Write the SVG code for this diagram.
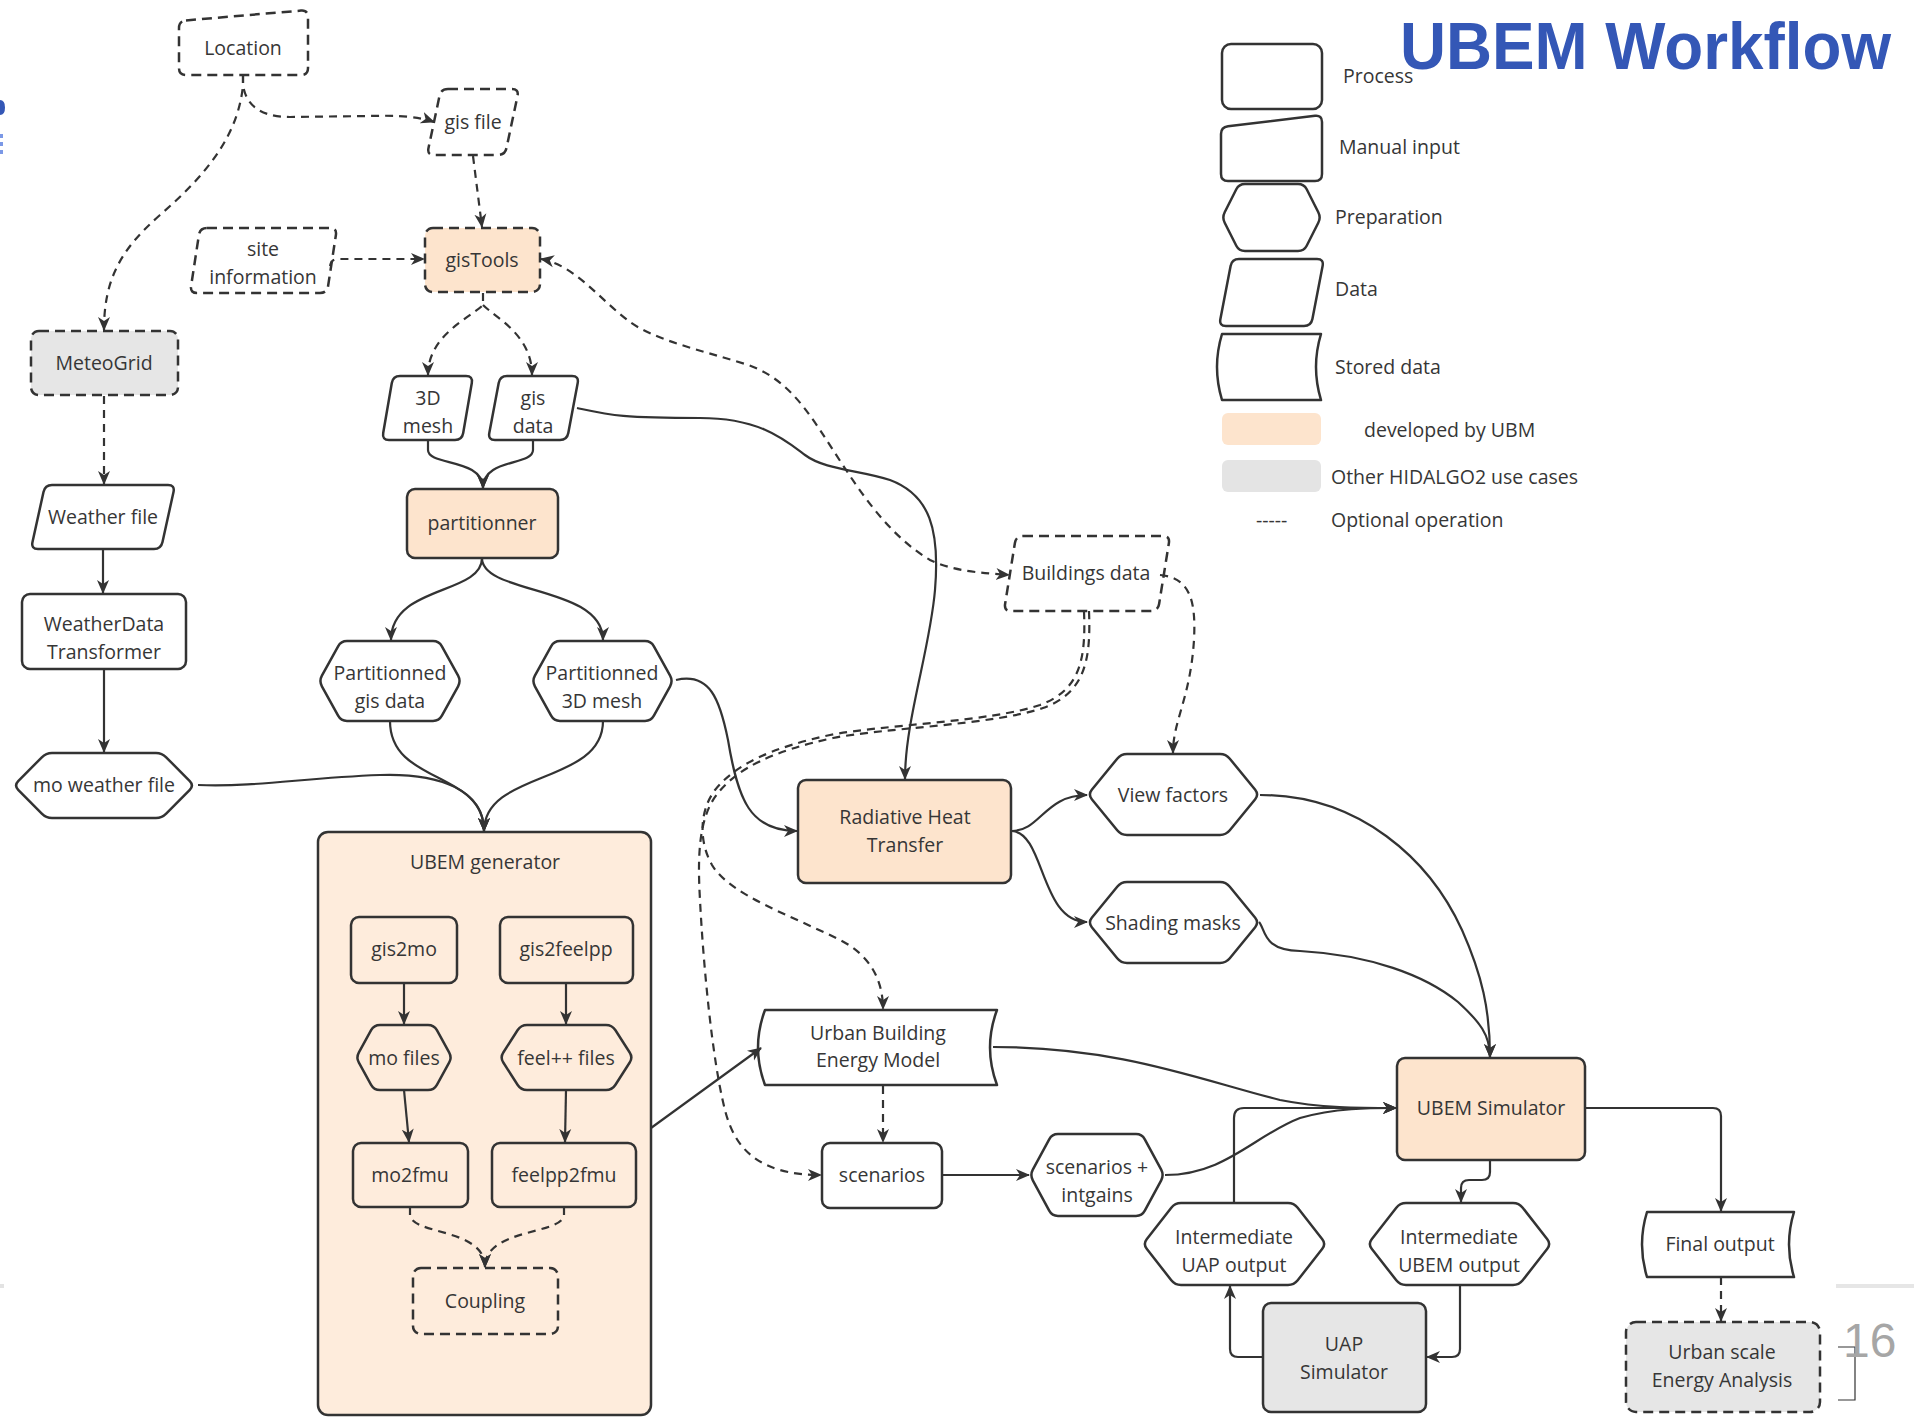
<svg xmlns="http://www.w3.org/2000/svg" width="1926" height="1418" viewBox="0 0 1926 1418">
<style>
  .s{stroke:#333;stroke-width:2.5;fill:#fff;stroke-linejoin:round}
  .o{fill:#fde4cd}
  .gy{fill:#e6e6e6}
  .gen{fill:#feecdc}
  .dash{stroke-dasharray:10 6}
  .c{fill:none;stroke:#333;stroke-width:2.2;marker-end:url(#arr)}
  .cd{stroke-dasharray:8 6}
  text{font-family:"Open Sans","DejaVu Sans",sans-serif;font-size:19.5px;fill:#363636;text-anchor:middle}
  .lg{text-anchor:start}
</style>
<defs>
  <marker id="arr" viewBox="0 0 14 14" refX="13" refY="7" markerWidth="14" markerHeight="14" markerUnits="userSpaceOnUse" orient="auto-start-reverse">
    <path d="M0,1 L14,7 L0,13 L4,7 z" fill="#333"/>
  </marker>
</defs>
<rect width="1926" height="1418" fill="#fff"/>

<!-- slide edge remnants -->
<g id="slide-marks">
  <path d="M0,100 Q5,100 5,107.5 Q5,115 0,115 Z" fill="#3457b6"/>
  <rect x="0" y="134" width="3" height="4" fill="#7b98e6"/>
  <rect x="0" y="142" width="3" height="4" fill="#7b98e6"/>
  <rect x="0" y="150" width="3" height="4" fill="#7b98e6"/>
  <rect x="0" y="1284" width="4" height="4" fill="#e3e3e3"/>
  <rect x="1836" y="1284" width="78" height="4" fill="#e6e6e6"/>
  <path d="M1838,1347 L1855,1347 L1855,1400 L1838,1400" fill="none" stroke="#333" stroke-width="1.2"/>
  <text x="1843" y="1357" style="font-family:'Liberation Sans',Arial,sans-serif;font-size:48px;fill:#a6a6a6;text-anchor:start">16</text>
</g>

<!-- legend -->
<g id="legend">
  <rect class="s" x="1222" y="44" width="100" height="65" rx="9"/>
  <path class="s" d="M1228,126.2 L1315,115.8 Q1322,115 1322,122 L1322,174 Q1322,181 1315,181 L1228,181 Q1221,181 1221,174 L1221,134 Q1221,127 1228,126.2 Z"/>
  <path class="s" d="M1224.7,212.2 L1236.3,189.3 Q1239,184 1245,184 L1298,184 Q1304,184 1306.7,189.3 L1318.3,212.2 Q1321,217.5 1318.3,222.8 L1306.7,245.7 Q1304,251 1298,251 L1245,251 Q1239,251 1236.3,245.7 L1224.7,222.8 Q1222,217.5 1224.7,212.2 Z"/>
  <path class="s" d="M1239,259 L1317,259 Q1324,259 1322.6,266 L1312.4,319 Q1311,326 1304,326 L1226,326 Q1219,326 1220.4,319 L1230.6,266 Q1232,259 1239,259 Z"/>
  <path class="s" d="M1222,334 L1321,334 Q1311,367 1321,400 L1222,400 Q1212,367 1222,334 Z"/>
  <rect x="1222" y="413" width="99" height="32" rx="6" fill="#fde4cd"/>
  <rect x="1222" y="460" width="99" height="32" rx="6" fill="#e4e4e4"/>
  <text class="lg" x="1343" y="83">Process</text>
  <text class="lg" x="1339" y="154">Manual input</text>
  <text class="lg" x="1335" y="224">Preparation</text>
  <text class="lg" x="1335" y="296">Data</text>
  <text class="lg" x="1335" y="374">Stored data</text>
  <text class="lg" x="1364" y="437">developed by UBM</text>
  <text class="lg" x="1331" y="484">Other HIDALGO2 use cases</text>
  <text class="lg" x="1256" y="527">-----</text>
  <text class="lg" x="1331" y="527">Optional operation</text>
</g>

<!-- title, drawn over the legend -->
<text id="title" x="1400" y="69" textLength="491" lengthAdjust="spacingAndGlyphs" style="font-family:'Liberation Sans',Arial,sans-serif;font-size:66px;font-weight:bold;fill:#3457b6;text-anchor:start">UBEM Workflow</text>

<!-- nodes -->
<g id="location">
  <path class="s dash" d="M186,20.4 L301,10.6 Q308,10 308,17 L308,68 Q308,75 301,75 L186,75 Q179,75 179,68 L179,28 Q179,21 186,20.4 Z"/>
  <text x="243" y="55">Location</text>
</g>
<g id="gis-file">
  <path class="s dash" d="M448,89 L512,89 Q519,89 517.5,96 L506.5,148 Q505,155 498,155 L434,155 Q427,155 428.5,148 L439.5,96 Q441,89 448,89 Z"/>
  <text x="473" y="129">gis file</text>
</g>
<g id="site-information">
  <path class="s dash" d="M207,228 L330,228 Q337,228 335.9,235 L328.1,286 Q327,293 320,293 L197,293 Q190,293 191.1,286 L198.9,235 Q200,228 207,228 Z"/>
  <text x="263" y="256">site</text>
  <text x="263" y="284">information</text>
</g>
<g id="gistools">
  <rect class="s o dash" x="425" y="228" width="115" height="64" rx="8"/>
  <text x="482" y="267">gisTools</text>
</g>
<g id="meteogrid">
  <rect class="s gy dash" x="31" y="331" width="147" height="64" rx="8"/>
  <text x="104" y="370">MeteoGrid</text>
</g>
<g id="mesh-3d">
  <path class="s" d="M400,376 L466,376 Q473,376 471.8,383 L463.2,433 Q462,440 455,440 L389,440 Q382,440 383.2,433 L391.8,383 Q393,376 400,376 Z"/>
  <text x="428" y="405">3D</text>
  <text x="428" y="433">mesh</text>
</g>
<g id="gis-data">
  <path class="s" d="M507,376 L572,376 Q579,376 577.7,383 L568.3,433 Q567,440 560,440 L495,440 Q488,440 489.3,433 L498.7,383 Q500,376 507,376 Z"/>
  <text x="533" y="405">gis</text>
  <text x="533" y="433">data</text>
</g>
<g id="weather-file">
  <path class="s" d="M52,485 L168,485 Q175,485 173.5,492 L162.5,542 Q161,549 154,549 L38,549 Q31,549 32.5,542 L43.5,492 Q45,485 52,485 Z"/>
  <text x="103" y="524">Weather file</text>
</g>
<g id="partitionner">
  <rect class="s o" x="407" y="489" width="151" height="69" rx="8"/>
  <text x="482" y="530">partitionner</text>
</g>
<g id="weatherdata-transformer">
  <rect class="s" x="22" y="594" width="164" height="75" rx="8"/>
  <text x="104" y="631">WeatherData</text>
  <text x="104" y="659">Transformer</text>
</g>
<g id="partitionned-gis-data">
  <path class="s" d="M321.9,675.7 L338.1,646.3 Q341,641 347,641 L433,641 Q439,641 441.9,646.3 L458.1,675.7 Q461,681 458.1,686.3 L441.9,715.7 Q439,721 433,721 L347,721 Q341,721 338.1,715.7 L321.9,686.3 Q319,681 321.9,675.7 Z"/>
  <text x="390" y="680">Partitionned</text>
  <text x="390" y="708">gis data</text>
</g>
<g id="partitionned-3d-mesh">
  <path class="s" d="M534.9,675.7 L551.1,646.3 Q554,641 560,641 L645,641 Q651,641 653.9,646.3 L670.1,675.7 Q673,681 670.1,686.3 L653.9,715.7 Q651,721 645,721 L560,721 Q554,721 551.1,715.7 L534.9,686.3 Q532,681 534.9,675.7 Z"/>
  <text x="602" y="680">Partitionned</text>
  <text x="602" y="708">3D mesh</text>
</g>
<g id="mo-weather-file">
  <path class="s" d="M18.2,781.2 L41.8,757.3 Q46,753 52,753 L156,753 Q162,753 166.2,757.3 L189.8,781.2 Q194,785.5 189.8,789.8 L166.2,813.7 Q162,818 156,818 L52,818 Q46,818 41.8,813.7 L18.2,789.8 Q14,785.5 18.2,781.2 Z"/>
  <text x="104" y="792">mo weather file</text>
</g>
<g id="ubem-generator">
  <rect class="s gen" x="318" y="832" width="333" height="583" rx="10"/>
  <text x="485" y="869">UBEM generator</text>
</g>
<g id="gis2mo">
  <rect class="s gen" x="351" y="917" width="106" height="66" rx="8"/>
  <text x="404" y="956">gis2mo</text>
</g>
<g id="gis2feelpp">
  <rect class="s gen" x="500" y="917" width="133" height="66" rx="8"/>
  <text x="566" y="956">gis2feelpp</text>
</g>
<g id="mo-files">
  <path class="s gen" d="M358.9,1052.3 L371.1,1030.2 Q374,1025 380,1025 L428,1025 Q434,1025 436.9,1030.2 L449.1,1052.3 Q452,1057.5 449.1,1062.7 L436.9,1084.8 Q434,1090 428,1090 L380,1090 Q374,1090 371.1,1084.8 L358.9,1062.7 Q356,1057.5 358.9,1052.3 Z"/>
  <text x="404" y="1065">mo files</text>
</g>
<g id="feelpp-files">
  <path class="s gen" d="M503.3,1052.5 L517.7,1030 Q521,1025 527,1025 L606,1025 Q612,1025 615.3,1030 L629.7,1052.5 Q633,1057.5 629.7,1062.5 L615.3,1085 Q612,1090 606,1090 L527,1090 Q521,1090 517.7,1085 L503.3,1062.5 Q500,1057.5 503.3,1052.5 Z"/>
  <text x="566" y="1065">feel++ files</text>
</g>
<g id="mo2fmu">
  <rect class="s gen" x="353" y="1143" width="115" height="64" rx="8"/>
  <text x="410" y="1182">mo2fmu</text>
</g>
<g id="feelpp2fmu">
  <rect class="s gen" x="492" y="1143" width="144" height="64" rx="8"/>
  <text x="564" y="1182">feelpp2fmu</text>
</g>
<g id="coupling">
  <rect class="s gen dash" x="413" y="1268" width="145" height="66" rx="8"/>
  <text x="485" y="1308">Coupling</text>
</g>
<g id="radiative-heat-transfer">
  <rect class="s o" x="798" y="780" width="213" height="103" rx="8"/>
  <text x="905" y="824">Radiative Heat</text>
  <text x="905" y="852">Transfer</text>
</g>
<g id="buildings-data">
  <path class="s dash" d="M1023,536 L1163,536 Q1170,536 1168.9,543 L1159.1,604 Q1158,611 1151,611 L1011,611 Q1004,611 1005.1,604 L1014.9,543 Q1016,536 1023,536 Z"/>
  <text x="1086" y="580">Buildings data</text>
</g>
<g id="view-factors">
  <path class="s" d="M1091.8,789.8 L1117.2,758.7 Q1121,754 1127,754 L1220,754 Q1226,754 1229.8,758.7 L1255.2,789.8 Q1259,794.5 1255.2,799.2 L1229.8,830.3 Q1226,835 1220,835 L1127,835 Q1121,835 1117.2,830.3 L1091.8,799.2 Q1088,794.5 1091.8,789.8 Z"/>
  <text x="1173" y="802">View factors</text>
</g>
<g id="shading-masks">
  <path class="s" d="M1091.8,917.8 L1117.2,886.7 Q1121,882 1127,882 L1220,882 Q1226,882 1229.8,886.7 L1255.2,917.8 Q1259,922.5 1255.2,927.2 L1229.8,958.3 Q1226,963 1220,963 L1127,963 Q1121,963 1117.2,958.3 L1091.8,927.2 Q1088,922.5 1091.8,917.8 Z"/>
  <text x="1173" y="930">Shading masks</text>
</g>
<g id="urban-building-energy-model">
  <path class="s" d="M765,1010 L997,1010 Q983,1047.5 997,1085 L765,1085 Q751,1047.5 765,1010 Z"/>
  <text x="878" y="1040">Urban Building</text>
  <text x="878" y="1067">Energy Model</text>
</g>
<g id="scenarios">
  <rect class="s" x="822" y="1143" width="120" height="65" rx="8"/>
  <text x="882" y="1182">scenarios</text>
</g>
<g id="scenarios-intgains">
  <path class="s" d="M1032.8,1169.7 L1049.2,1139.3 Q1052,1134 1058,1134 L1136,1134 Q1142,1134 1144.8,1139.3 L1161.2,1169.7 Q1164,1175 1161.2,1180.3 L1144.8,1210.7 Q1142,1216 1136,1216 L1058,1216 Q1052,1216 1049.2,1210.7 L1032.8,1180.3 Q1030,1175 1032.8,1169.7 Z"/>
  <text x="1097" y="1174">scenarios +</text>
  <text x="1097" y="1202">intgains</text>
</g>
<g id="ubem-simulator">
  <rect class="s o" x="1397" y="1058" width="188" height="102" rx="8"/>
  <text x="1491" y="1115">UBEM Simulator</text>
</g>
<g id="intermediate-uap-output">
  <path class="s" d="M1146.7,1239.3 L1171.3,1207.7 Q1175,1203 1181,1203 L1288,1203 Q1294,1203 1297.7,1207.7 L1322.3,1239.3 Q1326,1244 1322.3,1248.7 L1297.7,1280.3 Q1294,1285 1288,1285 L1181,1285 Q1175,1285 1171.3,1280.3 L1146.7,1248.7 Q1143,1244 1146.7,1239.3 Z"/>
  <text x="1234" y="1244">Intermediate</text>
  <text x="1234" y="1272">UAP output</text>
</g>
<g id="intermediate-ubem-output">
  <path class="s" d="M1371.7,1239.3 L1396.3,1207.7 Q1400,1203 1406,1203 L1513,1203 Q1519,1203 1522.7,1207.7 L1547.3,1239.3 Q1551,1244 1547.3,1248.7 L1522.7,1280.3 Q1519,1285 1513,1285 L1406,1285 Q1400,1285 1396.3,1280.3 L1371.7,1248.7 Q1368,1244 1371.7,1239.3 Z"/>
  <text x="1459" y="1244">Intermediate</text>
  <text x="1459" y="1272">UBEM output</text>
</g>
<g id="uap-simulator">
  <rect class="s gy" x="1263" y="1303" width="163" height="109" rx="8"/>
  <text x="1344" y="1351">UAP</text>
  <text x="1344" y="1379">Simulator</text>
</g>
<g id="final-output">
  <path class="s" d="M1647,1212 L1794,1212 Q1784,1244.5 1794,1277 L1647,1277 Q1637,1244.5 1647,1212 Z"/>
  <text x="1720" y="1251">Final output</text>
</g>
<g id="urban-scale-energy-analysis">
  <rect class="s gy dash" x="1626" y="1322" width="194" height="90" rx="10"/>
  <text x="1722" y="1359">Urban scale</text>
  <text x="1722" y="1387">Energy Analysis</text>
</g>

<!-- connectors (drawn last so that they sit on top of container fills) -->
<g id="connectors">
  <path class="c cd" d="M243,75 L243,85 C238,140 200,180 160,215 C120,250 104,280 104,330"/>
  <path class="c cd" d="M243,75 L243,85 C246,105 260,117 290,117 L370,116 C400,115 420,117 434,122"/>
  <path class="c cd" d="M473,156 L482,227"/>
  <path class="c cd" d="M330,266 Q331,259 338,259 L424,259"/>
  <path class="c cd" d="M483,293 L483,305 C470,318 428,335 428,375"/>
  <path class="c cd" d="M483,305 C496,318 532,335 532,375"/>
  <path class="c cd" style="marker-start:url(#arr)" d="M541,259 C575,265 600,300 630,322 C655,340 700,350 745,364 C780,375 800,400 820,430 C850,475 880,530 930,560 C955,572 985,573 1009,575"/>
  <path class="c" d="M577,408 C610,415 620,418 700,418 C760,418 785,440 805,455 C825,470 860,470 890,480 C930,495 940,530 935,590 C930,650 905,720 905,779"/>
  <path class="c" d="M428,440 L428,450 C428,466 483,458 483,488"/>
  <path class="c" d="M533,440 L533,450 C533,466 483,458 483,488"/>
  <path class="c cd" d="M104,396 L104,484"/>
  <path class="c" d="M103,549 L103,593"/>
  <path class="c" d="M104,669 L104,752"/>
  <path class="c" d="M482,558 C482,595 391,585 391,640"/>
  <path class="c" d="M482,558 C482,595 603,585 603,640"/>
  <path class="c" d="M390,721 C390,785 484,770 484,831"/>
  <path class="c" d="M603,721 C603,785 484,770 484,831"/>
  <path class="c" d="M198,785 C260,787 300,778 380,775 C440,773 484,790 484,831"/>
  <path class="c" d="M676,680 C710,672 720,700 728,740 C738,800 750,831 797,831"/>
  <path class="c" d="M1012,831 C1040,831 1045,795 1087,795"/>
  <path class="c" d="M1012,831 C1045,833 1040,922 1087,922"/>
  <path class="c cd" d="M1160,575 C1190,578 1196,600 1194,640 C1190,700 1173,720 1173,753"/>
  <path class="c cd" d="M1084,611 C1086,660 1080,690 1040,705 C990,722 880,725 830,735 C770,748 735,765 715,790 C700,810 698,840 712,865 C730,895 790,915 840,940 C870,955 883,980 883,1009"/>
  <path class="c cd" d="M1089,611 C1091,660 1085,693 1043,708 C993,725 883,728 833,738 C773,751 738,768 718,793 C700,815 697,850 700,900 C703,960 712,1060 725,1110 C735,1150 760,1175 821,1175"/>
  <path class="c cd" d="M883,1086 L883,1142"/>
  <path class="c" d="M942,1175 L1029,1175"/>
  <path class="c" d="M651,1128 L761,1048"/>
  <path class="c" d="M993,1047 C1120,1047 1200,1080 1280,1100 C1320,1108 1360,1108 1396,1108"/>
  <path class="c" d="M1165,1175 C1225,1175 1255,1135 1300,1118 C1335,1108 1370,1108 1396,1108"/>
  <path class="c" d="M1234,1203 L1234,1118 Q1234,1108 1244,1108 L1396,1108"/>
  <path class="c" d="M1260,795 C1360,795 1430,860 1462,930 C1482,975 1490,1010 1490,1057"/>
  <path class="c" d="M1259,922 C1266,930 1262,950 1300,951 C1370,955 1425,975 1458,1002 C1480,1022 1490,1035 1490,1057"/>
  <path class="c" d="M1490,1160 L1490,1172 Q1490,1180 1482,1180 L1469,1180 Q1461,1180 1461,1188 L1461,1202"/>
  <path class="c" d="M1460,1285 L1460,1349 Q1460,1357 1452,1357 L1427,1357"/>
  <path class="c" d="M1263,1357 L1238,1357 Q1230,1357 1230,1349 L1230,1286"/>
  <path class="c" d="M1585,1108 L1713,1108 Q1721,1108 1721,1116 L1721,1211"/>
  <path class="c cd" d="M1721,1277 L1721,1321"/>
  <path class="c" d="M404,983 L404,1024"/>
  <path class="c" d="M566,983 L566,1024"/>
  <path class="c" d="M404,1090 L409,1142"/>
  <path class="c" d="M566,1090 L565,1142"/>
  <path class="c cd" d="M410,1207 L410,1215 C412,1235 485,1228 485,1267"/>
  <path class="c cd" d="M564,1207 L564,1215 C562,1235 485,1228 485,1267"/>
</g>
</svg>
